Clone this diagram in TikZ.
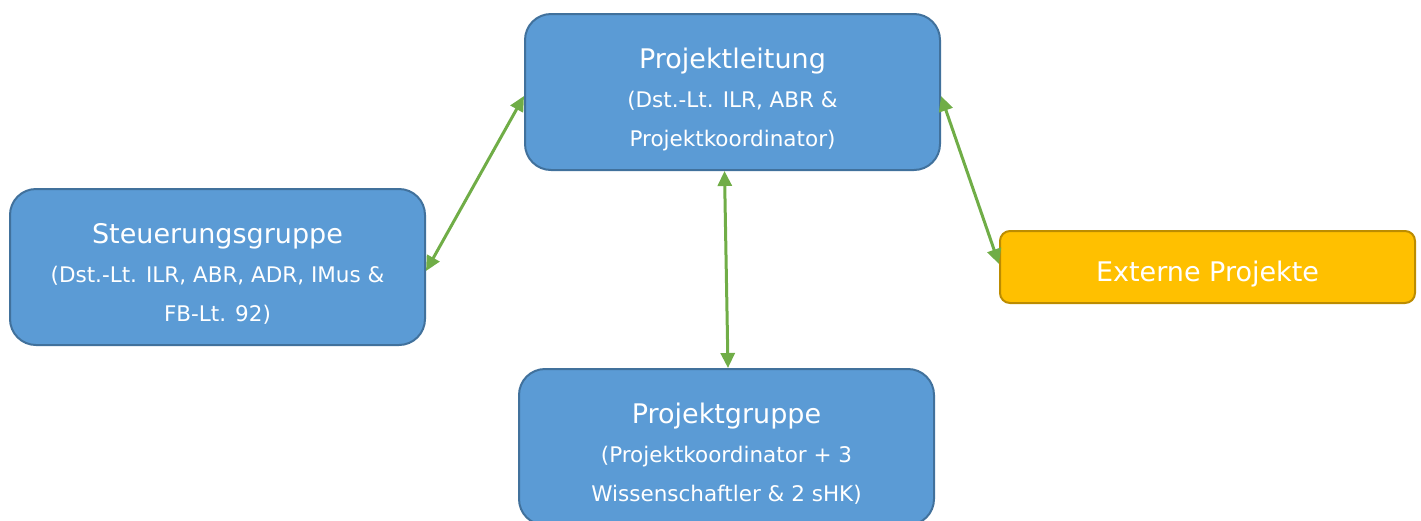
\documentclass[tikz,border=0pt]{standalone}
\usepackage{fontspec}
\setmainfont{DejaVu Sans}
\usetikzlibrary{arrows.meta,calc}
\definecolor{boxblue}{HTML}{5B9BD5}
\definecolor{boxblueline}{HTML}{41719C}
\definecolor{boxorange}{HTML}{FFC000}
\definecolor{boxorangeline}{HTML}{BC8C00}
\definecolor{arrowgreen}{HTML}{70AD47}
\tikzset{
  bluebox/.style={draw=boxblueline, fill=boxblue, line width=2pt, rounded corners=26pt,
    minimum width=415pt, minimum height=156pt, text=white, align=center,
    font=\fontsize{21.5}{39}\selectfont, inner sep=0pt},
  orangebox/.style={draw=boxorangeline, fill=boxorange, line width=2pt, rounded corners=10pt,
    minimum width=415pt, minimum height=72pt, text=white, align=center,
    font=\fontsize{27}{32}\selectfont, inner sep=0pt, text height=34pt, text depth=6pt},
  link/.style={draw=arrowgreen, line width=3pt, {Triangle[length=15pt,width=14pt]}-{Triangle[length=15pt,width=14pt]}}
}
\newcommand{\boxtitle}[1]{{\fontsize{27}{32}\selectfont\rule{0pt}{36pt}#1}}
\newcommand{\lastline}[1]{#1\rule[-6pt]{0pt}{6pt}}
\begin{document}
\begin{tikzpicture}[x=1pt,y=-1pt]
\useasboundingbox (0,0) rectangle (1421,520);
\node[bluebox] (PL) at (732.5,92) {\boxtitle{Projektleitung}\\(Dst.-Lt. ILR, ABR \&\\\lastline{Projektkoordinator)}};
\node[bluebox] (SG) at (217.5,267) {\boxtitle{Steuerungsgruppe}\\(Dst.-Lt. ILR, ABR, ADR, IMus \&\\\lastline{FB-Lt. 92)}};
\node[bluebox] (PG) at (726.5,447) {\boxtitle{Projektgruppe}\\(Projektkoordinator + 3\\\lastline{Wissenschaftler \& 2 sHK)}};
\node[orangebox] (EP) at (1207.5,267) {Externe Projekte};
\draw[link] ($(SG.east)+(0,4)$) -- ($(PL.west)+(0,4)$);
\draw[link] ($(PL.south)+(-8,0)$) -- ($(PG.north)+(1.5,0)$);
\draw[link] ($(PL.east)+(0,4)$) -- ($(EP.west)+(0,-3)$);
\end{tikzpicture}
\end{document}
